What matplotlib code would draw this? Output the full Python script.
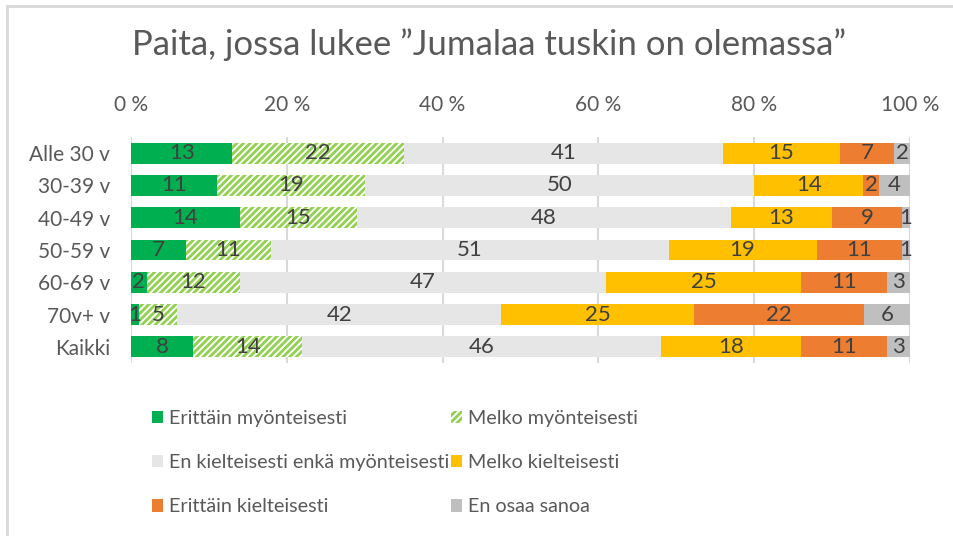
import matplotlib
matplotlib.use("Agg")
import matplotlib.pyplot as plt
from matplotlib.patches import Rectangle, Patch
import numpy as np

plt.rcParams['font.family'] = ['Lato', 'DejaVu Sans']
plt.rcParams['hatch.linewidth'] = 2.0

categories = ["Alle 30 v", "30-39 v", "40-49 v", "50-59 v", "60-69 v", "70v+ v", "Kaikki"]
series_names = ["Erittäin myönteisesti", "Melko myönteisesti",
                "En kielteisesti enkä myönteisesti", "Melko kielteisesti",
                "Erittäin kielteisesti", "En osaa sanoa"]
erittain_myon = [13, 11, 14, 7, 2, 1, 8]
melko_myon = [22, 19, 15, 11, 12, 5, 14]
en_kielt_enka = [41, 50, 48, 51, 47, 42, 46]
melko_kielt = [15, 14, 13, 19, 25, 25, 18]
erittain_kielt = [7, 2, 9, 11, 11, 22, 11]
en_osaa = [2, 4, 1, 1, 3, 6, 3]
xtick_labels = ["0 %", "20 %", "40 %", "60 %", "80 %", "100 %"]

series = [erittain_myon, melko_myon, en_kielt_enka, melko_kielt, erittain_kielt, en_osaa]
colors = ["#00B050", "#92D050", "#E7E6E6", "#FFC000", "#ED7D31", "#BFBFBF"]

W, H = 954, 536
fig = plt.figure(figsize=(W / 100, H / 100), dpi=100)
ax = fig.add_axes([131 / W, 1 - 363 / H, (910 - 131) / W, (363 - 137) / H])

data = np.array(series, dtype=float)
totals = data.sum(axis=0)
pct = data / totals * 100
y = np.arange(len(categories))
left = np.zeros(len(categories))
handles = []
for i, (name, vals) in enumerate(zip(series_names, pct)):
    if i == 1:
        bars = ax.barh(y, vals, left=left, height=0.65, facecolor="white",
                       edgecolor=colors[i], hatch="/////", linewidth=0, label=name, zorder=3)
        handles.append(Patch(facecolor="white", edgecolor=colors[i], hatch="/////", linewidth=0, label=name))
    else:
        bars = ax.barh(y, vals, left=left, height=0.65, color=colors[i], label=name, zorder=3)
        handles.append(Patch(facecolor=colors[i], label=name))
    for j, b in enumerate(bars):
        ax.text(left[j] + vals[j] / 2, y[j], str(series[i][j]), ha="center", va="center",
                fontsize=16, color="#404040", zorder=5)
    left = left + vals

ax.set_xlim(0, 100)
ax.set_ylim(len(categories) - 0.5, -0.5)
ax.set_xticks([0, 20, 40, 60, 80, 100])
ax.set_xticklabels(xtick_labels)
ax.xaxis.tick_top()
ax.tick_params(axis="x", length=0, pad=16, labelsize=15, labelcolor="#595959")
ax.set_yticks(y)
ax.set_yticklabels(categories)
ax.tick_params(axis="y", length=0, pad=15, labelsize=15, labelcolor="#595959")
ax.grid(axis="x", color="#D9D9D9", linewidth=1.5, zorder=0)
ax.set_axisbelow(True)
for s in ax.spines.values():
    s.set_visible(False)

fig.text(489 / W, 1 - 45 / H, "Paita, jossa lukee ”Jumalaa tuskin on olemassa”",
         ha="center", va="center", fontsize=25, color="#595959")

order = [0, 2, 4, 1, 3, 5]
leg = fig.legend([handles[k] for k in order], [series_names[k] for k in order],
                 ncol=2, loc="upper left", bbox_to_anchor=(152 / W, 1 - 410 / H),
                 frameon=False, fontsize=14.2, labelcolor="#595959", borderpad=0,
                 borderaxespad=0,
                 handlelength=0.58, handleheight=0.58, handletextpad=0.3,
                 labelspacing=1.38, columnspacing=0.05)

fig.add_artist(Rectangle((7 / W, -0.1), 1.2, 1.1 - 6 / H, transform=fig.transFigure,
                         fill=False, edgecolor="#D9D9D9", linewidth=2))

fig.savefig("out.png", dpi=100)
